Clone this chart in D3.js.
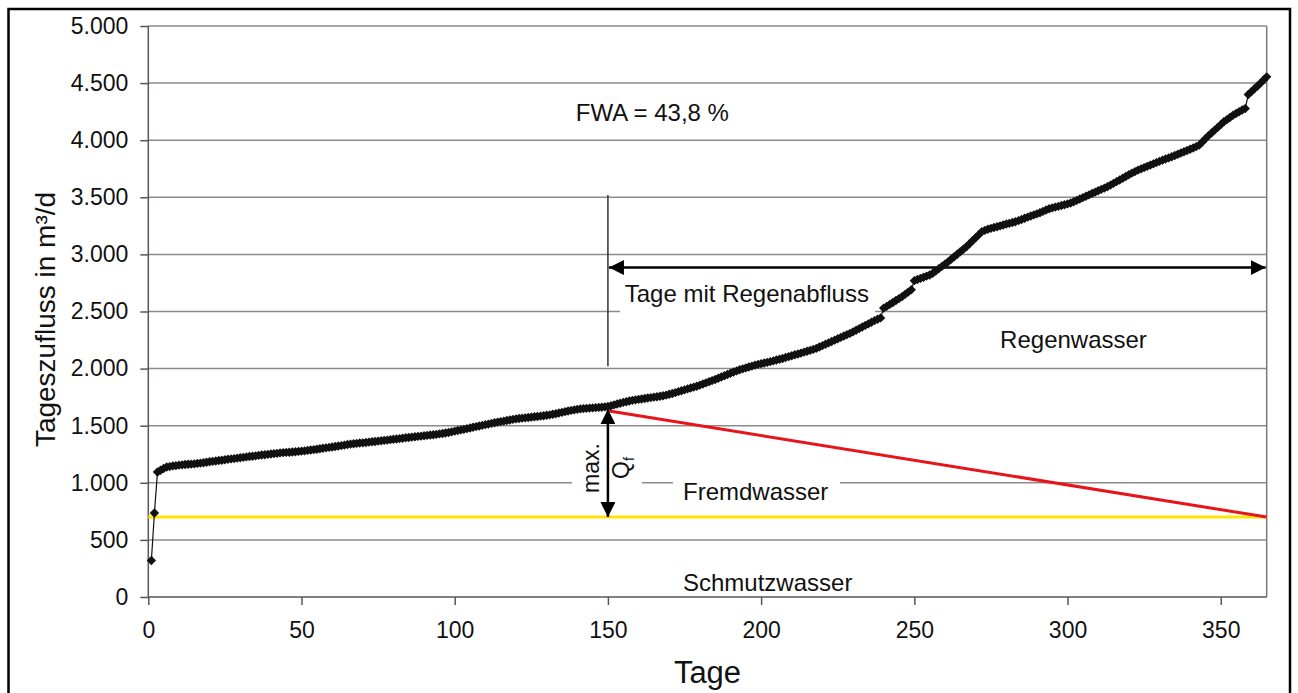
<!DOCTYPE html>
<html><head><meta charset="utf-8">
<script src="https://cdn.jsdelivr.net/npm/d3@7"></script>
<style>body{margin:0;background:#fff}svg{display:block}text{font-family:"Liberation Sans",Arial,sans-serif;fill:#111}</style>
</head><body>
<svg id="c" width="1298" height="693"></svg>
<script>
// Sorted daily inflow (Tageszufluss, m³/d), day 1..365
const inflow = [
320,735,1095,1110,1125,1138,1142,1148,1150,1155,
1157,1160,1162,1163,1166,1170,1172,1176,1180,1184,
1188,1191,1195,1198,1202,1206,1209,1212,1216,1219,
1223,1227,1230,1233,1236,1240,1243,1246,1249,1252,
1255,1258,1262,1264,1266,1268,1270,1272,1275,1277,
1280,1284,1287,1290,1294,1298,1302,1306,1310,1314,
1318,1322,1326,1330,1335,1339,1342,1345,1348,1350,
1353,1356,1359,1362,1365,1368,1371,1374,1378,1381,
1384,1387,1390,1394,1397,1400,1403,1406,1409,1412,
1415,1418,1421,1424,1428,1432,1436,1440,1446,1452,
1458,1463,1468,1474,1480,1486,1492,1497,1503,1509,
1514,1520,1526,1531,1536,1540,1545,1550,1555,1560,
1563,1566,1569,1572,1575,1578,1581,1584,1587,1591,
1595,1600,1605,1611,1617,1623,1629,1634,1639,1643,
1647,1650,1652,1654,1656,1658,1660,1662,1665,1668,
1675,1682,1690,1697,1704,1710,1716,1722,1726,1730,
1734,1738,1742,1746,1750,1754,1758,1762,1768,1775,
1782,1790,1798,1806,1814,1822,1830,1838,1846,1855,
1865,1875,1885,1895,1905,1915,1926,1937,1948,1959,
1970,1980,1990,1998,2006,2014,2022,2030,2037,2043,
2049,2055,2061,2068,2075,2082,2089,2097,2105,2113,
2121,2128,2136,2144,2152,2160,2168,2177,2189,2201,
2213,2225,2237,2249,2261,2273,2285,2297,2308,2322,
2336,2350,2364,2378,2392,2406,2420,2432,2444,2530,
2545,2562,2579,2596,2613,2630,2650,2670,2690,2770,
2780,2790,2800,2810,2820,2835,2855,2875,2895,2915,
2935,2957,2979,3001,3023,3045,3067,3093,3119,3145,
3171,3198,3210,3220,3228,3236,3242,3250,3258,3266,
3272,3279,3286,3296,3306,3316,3326,3336,3346,3355,
3365,3377,3389,3400,3407,3414,3421,3428,3435,3442,
3450,3461,3473,3485,3497,3509,3521,3533,3545,3557,
3569,3580,3592,3607,3622,3637,3652,3667,3682,3697,
3712,3725,3738,3749,3760,3771,3782,3793,3804,3815,
3825,3835,3845,3855,3866,3877,3888,3899,3910,3921,
3932,3944,3957,3985,4013,4040,4064,4088,4112,4136,
4161,4180,4199,4218,4234,4249,4264,4278,4400,4425,
4450,4475,4500,4528,4555
];
const xTicks = [0,50,100,150,200,250,300,350];
const yTicks = [0,500,1000,1500,2000,2500,3000,3500,4000,4500,5000];
const schmutzLine = [[0,700],[365,700]];          // Schmutzwasser level
const fremdLine = [[150,1630],[365,700]];          // Fremdwasser decrease
const rainDayStart = 150, rainDayEnd = 365;
const arrowRainValue = 2885;                        // "Tage mit Regenabfluss" arrow
const markerLine = [3520, 2020];                    // vertical thin line at day 150
const maxQf = [1645, 700];                          // max. Qf arrow
const labels = [
  {t:"FWA = 43,8 %", day:139.5, v:4168},
  {t:"Tage mit Regenabfluss", day:155.5, v:2583},
  {t:"Regenwasser", day:278, v:2180},
  {t:"Fremdwasser", day:174.5, v:850},
  {t:"Schmutzwasser", day:174.5, v:55}
];

const svg = d3.select("#c");
const x = d3.scaleLinear().domain([0,365]).range([148.3,1266.7]);
const y = d3.scaleLinear().domain([0,5000]).range([597,26]);
const loc = d3.formatLocale({decimal:",",thousands:".",grouping:[3],currency:["","€"]});
const fmt = loc.format(",d");

// outer border
svg.append("rect").attr("x",8.5).attr("y",9).attr("width",1281.5).attr("height",700)
  .attr("fill","none").attr("stroke","#000").attr("stroke-width",2.5);

// defs
const defs = svg.append("defs");
defs.append("marker").attr("id","ah").attr("viewBox","0 0 10 10").attr("refX",10).attr("refY",5)
  .attr("markerWidth",6).attr("markerHeight",6).attr("markerUnits","strokeWidth").attr("orient","auto-start-reverse")
  .append("path").attr("d","M0,0L10,5L0,10z").attr("fill","#000");

// gridlines
svg.append("g").selectAll("line").data(yTicks.filter(d=>d>0)).join("line")
  .attr("x1",x(0)).attr("x2",x(365)).attr("y1",d=>y(d)).attr("y2",d=>y(d))
  .attr("stroke","#8f8a88").attr("stroke-width",1.5);
// right border of plot area
svg.append("line").attr("x1",x(365)).attr("x2",x(365)).attr("y1",y(5000)).attr("y2",y(0))
  .attr("stroke","#7d7977").attr("stroke-width",1.5);

// axes
const ya = svg.append("g").attr("transform",`translate(${x(0)},0)`)
  .call(d3.axisLeft(y).tickValues(yTicks).tickFormat(fmt).tickSize(8).tickPadding(12));
const xa = svg.append("g").attr("transform",`translate(0,${y(0)})`)
  .call(d3.axisBottom(x).tickValues(xTicks).tickFormat(fmt).tickSize(8).tickPadding(17));
[ya,xa].forEach(g=>{
  g.select(".domain").attr("stroke","#5a5655").attr("stroke-width",1.5);
  g.selectAll(".tick line").attr("stroke","#5a5655").attr("stroke-width",1.5);
  g.selectAll(".tick text").attr("font-size",23).attr("fill","#111").attr("font-family","Liberation Sans, Arial, sans-serif");
});
ya.select(".domain").attr("d",`M0,${y(5000)}V${y(0)}`);
xa.select(".domain").attr("d",`M${x(0)},0H${x(365)}`);

// white text boxes covering gridlines
const boxes = [[572,448,70,50],[673,474,167,30],[620,285,255,38]];
svg.append("g").selectAll("rect").data(boxes).join("rect")
  .attr("x",d=>d[0]).attr("y",d=>d[1]).attr("width",d=>d[2]).attr("height",d=>d[3]).attr("fill","#fff");

// Schmutzwasser (yellow)
const ln = d3.line().x(d=>x(d[0])).y(d=>y(d[1]));
svg.append("path").attr("d",ln(schmutzLine)).attr("stroke","#ffe400").attr("stroke-width",3).attr("fill","none");
// Fremdwasser (red)
svg.append("path").attr("d",ln(fremdLine)).attr("stroke","#e8141c").attr("stroke-width",3).attr("fill","none");

// thin vertical line at day 150
svg.append("line").attr("x1",x(rainDayStart)).attr("x2",x(rainDayStart))
  .attr("y1",y(markerLine[0])).attr("y2",y(markerLine[1])).attr("stroke","#333").attr("stroke-width",1.5);
// double arrow Tage mit Regenabfluss
svg.append("line").attr("x1",x(rainDayStart)+1).attr("x2",x(rainDayEnd)-1)
  .attr("y1",y(arrowRainValue)).attr("y2",y(arrowRainValue))
  .attr("stroke","#000").attr("stroke-width",2.5)
  .attr("marker-start","url(#ah)").attr("marker-end","url(#ah)");
// double arrow max Qf
svg.append("line").attr("x1",x(rainDayStart)).attr("x2",x(rainDayStart))
  .attr("y1",y(maxQf[0])).attr("y2",y(maxQf[1]))
  .attr("stroke","#000").attr("stroke-width",2.5)
  .attr("marker-start","url(#ah)").attr("marker-end","url(#ah)");

// inflow curve
const pts = inflow.map((v,i)=>[i+1,v]);
svg.append("path").attr("d",ln(pts)).attr("stroke","#111").attr("stroke-width",1.2).attr("fill","none");
const sym = d3.symbol().type(d3.symbolSquare).size(44);
svg.append("g").selectAll("path").data(pts).join("path")
  .attr("d",sym).attr("transform",d=>`translate(${x(d[0])},${y(d[1])}) rotate(45)`)
  .attr("fill","#111");

// text labels
svg.append("g").selectAll("text").data(labels).join("text")
  .attr("x",d=>x(d.day)).attr("y",d=>y(d.v)).attr("font-size",24).text(d=>d.t);

// max. Qf rotated
svg.append("text").attr("transform",`translate(599,493) rotate(-90)`).attr("font-size",23).text("max.");
const q = svg.append("text").attr("transform",`translate(629,479) rotate(-90)`).attr("font-size",23);
q.append("tspan").text("Q");
q.append("tspan").attr("font-size",14).attr("dy",5).text("f");

// axis titles
svg.append("text").attr("transform",`translate(55,${(y(0)+y(5000))/2+8}) rotate(-90)`)
  .attr("text-anchor","middle").attr("font-size",28).text("Tageszufluss in m³/d");
svg.append("text").attr("x",(x(0)+x(365))/2).attr("y",683).attr("text-anchor","middle")
  .attr("font-size",31).text("Tage");
</script>
</body></html>
